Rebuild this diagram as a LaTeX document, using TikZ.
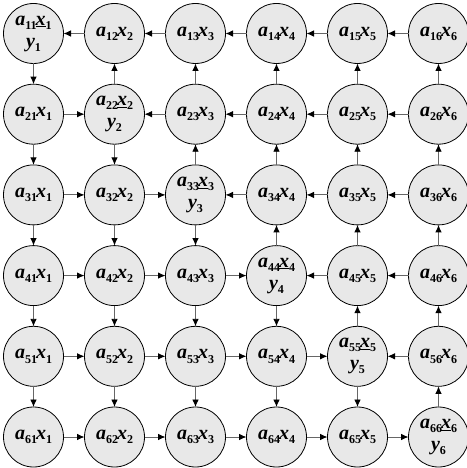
\documentclass[tikz,border=0pt]{standalone}
\usepackage{fontspec}
\setmainfont{Liberation Serif}
\usetikzlibrary{arrows.meta}
\newcommand\sbs[1]{\raisebox{-0.45ex}{\fontsize{12}{12}\selectfont\upshape #1}}
\begin{document}
\begin{tikzpicture}[x=1pt,y=-1pt,
  cell/.style={circle,draw=black,line width=0.8pt,fill=black!9,minimum size=60pt,inner sep=0pt,outer sep=0pt,
    font=\fontsize{20}{24}\selectfont\bfseries\itshape,align=center},
  flow/.style={draw=black!60,line width=0.9pt,-{Latex[length=7.5pt,width=6.5pt,color=black]}}]
\useasboundingbox (0,0) rectangle (466,468);
\foreach \i in {1,...,6}{
  \foreach \j in {1,...,6}{
    \pgfmathsetmacro\px{33.5+81*(\j-1)}
    \pgfmathsetmacro\py{33.5+80.7*(\i-1)}
    \ifnum\i=\j
      \node[cell] (n\i\j) at (\px,\py) {a\sbs{\i\j}\kern-1pt\underline{x}\sbs{\j}\\[-2pt]y\sbs{\i}};
    \else
      \node[cell] (n\i\j) at (\px,\py) {a\sbs{\i\j}\kern-1pt x\sbs{\j}};
    \fi
  }
}
\foreach \i in {1,...,6}{
  \foreach \j in {1,...,5}{
    \pgfmathtruncatemacro\k{\j+1}
    \ifnum\j<\i
      \draw[flow] (n\i\j) -- (n\i\k);
    \else
      \draw[flow] (n\i\k) -- (n\i\j);
    \fi
  }
}
\foreach \i in {1,...,5}{
  \foreach \j in {1,...,6}{
    \pgfmathtruncatemacro\k{\i+1}
    \ifnum\i<\j
      \draw[flow] (n\k\j) -- (n\i\j);
    \else
      \draw[flow] (n\i\j) -- (n\k\j);
    \fi
  }
}
\end{tikzpicture}
\end{document}
